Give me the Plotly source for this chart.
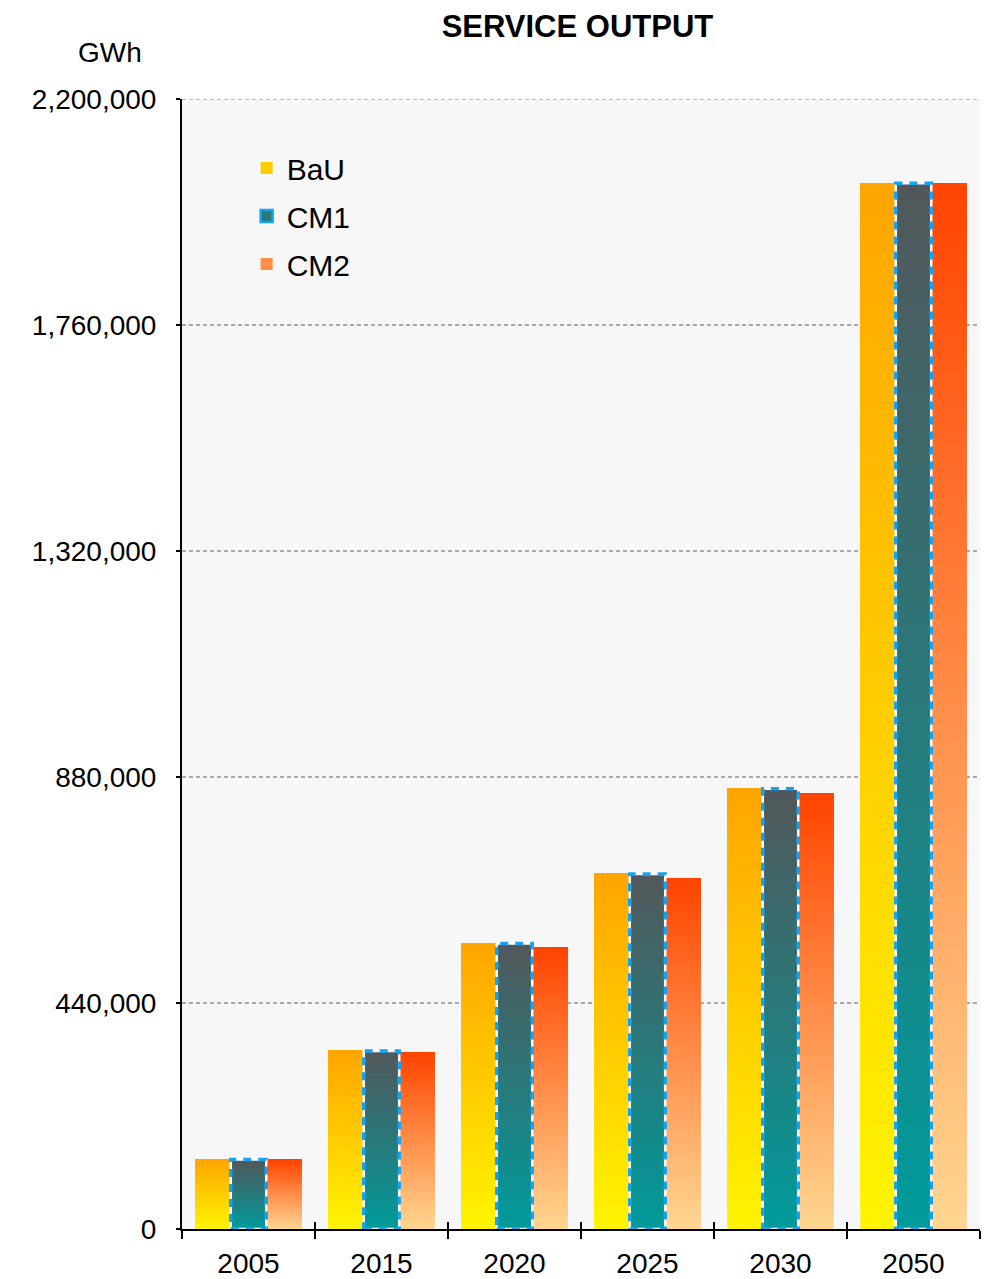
import plotly.graph_objects as go

years = ["2005", "2015", "2020", "2025", "2030", "2050"]
bau = [136000, 348500, 557000, 693000, 858500, 2036500]
cm1 = [135500, 346500, 556000, 691000, 857000, 2036000]
cm2 = [135000, 344500, 549000, 683000, 849000, 2036000]
series_names = ["BaU", "CM1", "CM2"]
y_ticks = [0, 440000, 880000, 1320000, 1760000, 2200000]

# gradient (bottom colour, top colour)
grads = {
    "BaU": ((255, 244, 0), (255, 165, 0)),
    "CM1": ((0, 155, 155), (82, 87, 90)),
    "CM2": ((255, 214, 145), (255, 68, 0)),
}
data = {"BaU": bau, "CM1": cm1, "CM2": cm2}

N = 60
fig = go.Figure()


def mix(c0, c1, t):
    return "rgb(%d,%d,%d)" % tuple(round(a + (b - a) * t) for a, b in zip(c0, c1))


for gi, name in enumerate(series_names):
    vals = data[name]
    c0, c1 = grads[name]
    for k in range(N):
        frac = k / N
        fig.add_trace(go.Bar(
            x=years,
            y=[v * (1 - frac) for v in vals],
            base=[v * frac for v in vals],
            offsetgroup=name,
            marker=dict(color=mix(c0, c1, (k + 0.5) / N), line=dict(width=0)),
            showlegend=False,
            hoverinfo="skip",
        ))
    # legend entry
    fig.add_trace(go.Bar(
        x=[None], y=[None], offsetgroup=name, name=name,
        legendgroup=name,
        marker=dict(color=mix(c0, c1, 0.5),
                    line=dict(width=2.5 if name == "CM1" else 0, color="#12A4F5")),
        showlegend=True,
    ))

ncat = len(years)
# invisible trace so the secondary (inside-tick) axis is drawn
fig.add_trace(go.Scatter(x=list(range(ncat)), y=[None] * ncat, xaxis="x2", mode="none",
                         showlegend=False, hoverinfo="skip"))

# dashed outlines for CM1 bars
bw = 0.8 / 3
shapes = []
for i, v in enumerate(cm1):
    shapes.append(dict(type="rect", xref="x", yref="y",
                       x0=i - bw / 2, x1=i + bw / 2, y0=0, y1=v,
                       line=dict(color="white", width=2.5), layer="above"))
    shapes.append(dict(type="rect", xref="x", yref="y",
                       x0=i - bw / 2, x1=i + bw / 2, y0=0, y1=v,
                       line=dict(color="#14A2F2", width=3.5, dash="8px,7px"), layer="above"))

# top gridline (at the edge of the range)
shapes.append(dict(type="line", xref="paper", yref="y", x0=0, x1=1,
                   y0=y_ticks[-1], y1=y_ticks[-1],
                   line=dict(color="#AAAAAA", width=1.5, dash="4px,3px"), layer="below"))

fig.update_layout(
    width=993, height=1279,
    margin=dict(l=182, r=13, t=99, b=50, autoexpand=False),
    paper_bgcolor="white",
    plot_bgcolor="#F7F7F7",
    barmode="group",
    bargap=0.2,
    bargroupgap=0,
    font=dict(family="Liberation Sans, Arial, sans-serif", size=28, color="black"),
    title=dict(text="<b>SERVICE OUTPUT</b>", x=0.5815, xanchor="center", y=0.9795, yanchor="middle",
               font=dict(size=31, family="Liberation Sans, Arial, sans-serif")),
    showlegend=True,
    legend=dict(x=0.081, y=0.962, xanchor="left", yanchor="top", bgcolor="rgba(0,0,0,0)",
                font=dict(size=30), tracegroupgap=6, traceorder="grouped"),
    shapes=shapes,
    annotations=[dict(text="GWh", x=(110 - 182) / 798, y=(1229 - 52) / 1130,
                      xref="paper", yref="paper", showarrow=False,
                      xanchor="center", yanchor="middle", font=dict(size=28))],
    xaxis2=dict(overlaying="x", range=[-0.5, ncat - 0.5],
                tickvals=[i - 0.5 for i in range(ncat + 1)],
                showticklabels=False, ticks="inside", ticklen=7, tickwidth=2,
                tickcolor="black", showgrid=False, zeroline=False, showline=False,
                side="bottom", anchor="y"),
)

fig.layout.xaxis.update(
    type="category",
    range=[-0.5, ncat - 0.5],
    showline=True, linecolor="black", linewidth=2,
    ticks="outside", ticklen=8, tickwidth=2, tickcolor="black",
    tickson="boundaries",
    ticklabelstandoff=8,
    showgrid=False,
    tickfont=dict(size=28),
)
fig.update_yaxes(
    range=[0, 2200000],
    tickvals=y_ticks,
    ticktext=[f"{v:,}" for v in y_ticks],
    showline=True, linecolor="black", linewidth=2,
    ticks="outside", ticklen=4, tickwidth=2, tickcolor="black",
    ticklabelstandoff=14,
    showgrid=True, gridcolor="#AAAAAA", gridwidth=1.5, griddash="4px,3px",
    zeroline=False,
    tickfont=dict(size=28),
)

fig.write_html("out.html")
